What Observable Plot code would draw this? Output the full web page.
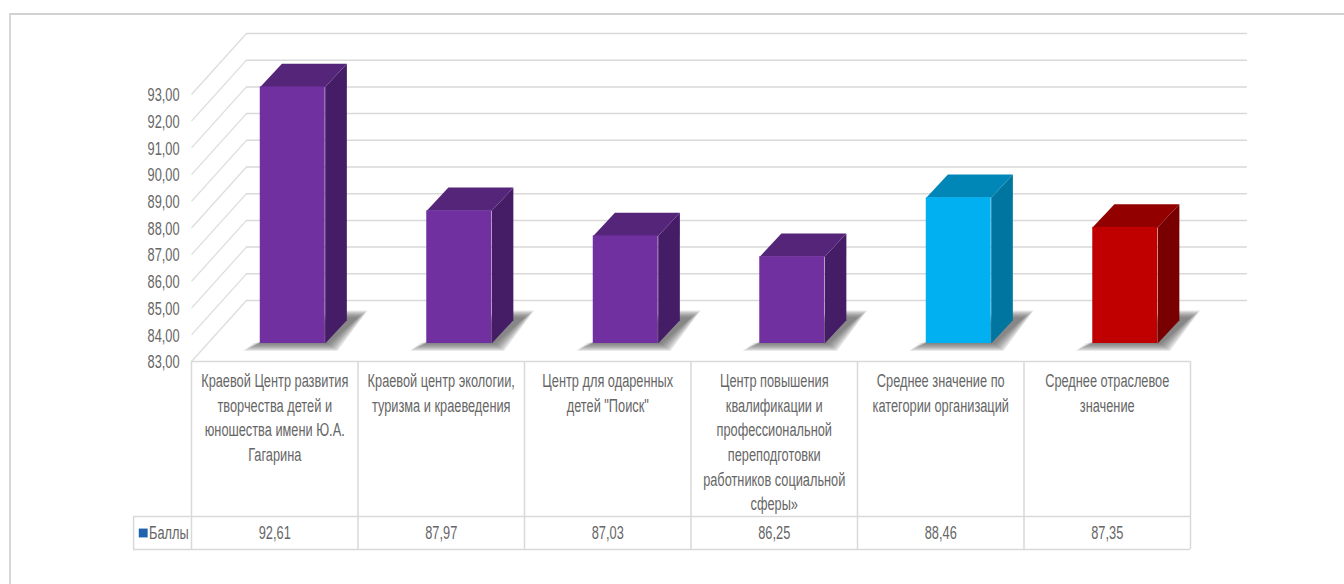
<!DOCTYPE html>
<html lang="ru">
<head>
<meta charset="utf-8">
<script src="https://cdn.jsdelivr.net/npm/d3@7"></script>
<script src="https://cdn.jsdelivr.net/npm/@observablehq/plot@0.6"></script>
<style>
html,body{margin:0;padding:0;background:#fff;overflow:hidden}
#frame{position:absolute;left:9px;top:13px;right:-4px;bottom:-4px;border-left:2px solid #d6d6d6;border-top:2px solid #d2d2d2;pointer-events:none}
#chart{position:absolute;left:0;top:0}
</style>
</head>
<body>
<div id="chart"></div>
<div id="frame"></div>
<script>
const categories = [
  "Краевой Центр развития\nтворчества детей и\nюношества имени Ю.А.\nГагарина",
  "Краевой центр экологии,\nтуризма и краеведения",
  "Центр для одаренных\nдетей \"Поиск\"",
  "Центр повышения\nквалификации и\nпрофессиональной\nпереподготовки\nработников социальной\nсферы»",
  "Среднее значение по\nкатегории организаций",
  "Среднее отраслевое\nзначение"
];
const values = [92.61, 87.97, 87.03, 86.25, 88.46, 87.35];
const frontColors = ["#7030A0", "#7030A0", "#7030A0", "#7030A0", "#00B0F0", "#C00000"];
const sideColors = ["#451C66", "#451C66", "#451C66", "#451C66", "#00759F", "#780000"];
const topColors = ["#55257A", "#55257A", "#55257A", "#55257A", "#0087B8", "#930000"];
const yTicks = d3.range(83, 94);
const columnEdges = d3.range(0, 7);
const seriesName = "Баллы";

// depth of the 3D box, in scale units (one x unit is one table column)
const wallX = 0.33, wallY = 2.285, wallEnd = 6.342;
const barDX = 0.13, barDY = 0.87, barLift = 0.674, barShift = 0.108, barW = 0.39;
const tableRow = 83 - 155 / 26.7, tableEnd = 83 - 188 / 26.7, tableLeft = -0.348;
const textSqueeze = 0.71;
const shadowLayers = [0, 1, 2, 3, 4, 5, 6];

const left = i => i + 0.5 + barShift - barW / 2;
const right = i => left(i) + barW;
const base = barLift + 83;
const faces = values.flatMap((v, i) => {
  const t = v + barLift;
  return [
    {id: "side" + i, fill: sideColors[i], pts: [[right(i), base], [right(i) + barDX, base + barDY], [right(i) + barDX, t + barDY], [right(i), t]]},
    {id: "top" + i, fill: topColors[i], pts: [[left(i), t], [right(i), t], [right(i) + barDX, t + barDY], [left(i) + barDX, t + barDY]]}
  ];
}).flatMap(f => f.pts.map(([x, y]) => ({id: f.id, fill: f.fill, x, y})));
// a soft shadow on the floor: stacked translucent layers, each a little larger
const shadows = values.flatMap((v, i) => shadowLayers.flatMap(k => {
  const gx = k * 0.009, gy = k * 0.042;
  return [
    [left(i) - 0.05 - gx, base - 0.02 - gy], [right(i) + 0.02 + gx, base - 0.02 - gy],
    [right(i) + 0.2 + gx, base + 0.98 + gy], [right(i) + 0.1 - gx, base + 0.98 + gy]
  ].map(([x, y]) => ({id: `shadow${i}-${k}`, x, y}));
}));

const plot = Plot.plot({
  width: 1344,
  height: 584,
  marginLeft: 191,
  style: {fontFamily: "'Liberation Sans',sans-serif", fontSize: "18px", background: "transparent"},
  x: {type: "linear", domain: [0, 6], range: [191, 1190], axis: null},
  y: {domain: [83, 93], range: [361, 94]},
  color: {type: "identity"},
  marks: [
    Plot.ruleY(yTicks, {y: d => d + wallY, x1: () => wallX, x2: () => wallEnd, stroke: "#d9d9d9", strokeWidth: 1.5}),
    Plot.link(yTicks, {x1: () => 0, y1: d => d, x2: () => wallX, y2: d => d + wallY, stroke: "#dcdcdc", strokeWidth: 1.2}),
    Plot.axisY({ticks: yTicks, tickSize: 0, tickPadding: 12, label: null, color: "#666666", dy: 1,
      tickFormat: d => d.toFixed(2).replace(".", ",")}),
    Plot.line(shadows, {x: "x", y: "y", z: "id", fill: "#555555", fillOpacity: 0.16, stroke: null}),
    Plot.line(faces, {x: "x", y: "y", z: "id", fill: "fill", stroke: null}),
    Plot.rect(values, {x1: (d, i) => left(i), x2: (d, i) => right(i), y1: () => base, y2: d => d + barLift, fill: (d, i) => frontColors[i]}),
    Plot.ruleX(columnEdges, {x: d => d, y1: () => 83, y2: () => tableEnd, stroke: "#d9d9d9", strokeWidth: 1.5}),
    Plot.ruleX([tableLeft], {x: d => d, y1: () => tableRow, y2: () => tableEnd, stroke: "#d9d9d9", strokeWidth: 1.5}),
    Plot.ruleY([83], {y: d => d, x1: () => 0, x2: () => 6, stroke: "#d9d9d9", strokeWidth: 1.5}),
    Plot.ruleY([tableRow, tableEnd], {y: d => d, x1: () => tableLeft, x2: () => 6, stroke: "#d9d9d9", strokeWidth: 1.5}),
    Plot.text(categories, {x: (d, i) => i + 0.5, y: () => 83, dy: 8, lineAnchor: "top", lineHeight: 1.37, text: d => d, fill: "#666666"}),
    Plot.text(values, {x: (d, i) => i + 0.5, y: () => (tableRow + tableEnd) / 2, text: d => d.toFixed(2).replace(".", ","), fill: "#666666"}),
    Plot.dot([seriesName], {x: () => -0.29, y: () => (tableRow + tableEnd) / 2, symbol: "square", r: 5, fill: "#1F62AE"}),
    Plot.text([seriesName], {x: () => -0.255, y: () => (tableRow + tableEnd) / 2, text: d => d, textAnchor: "start", fill: "#666666"})
  ]
});
document.getElementById("chart").append(plot);
plot.querySelectorAll("text").forEach(t => {
  const parts = t.querySelectorAll("tspan");
  (parts.length ? [...parts] : [t]).forEach(el => {
    el.setAttribute("textLength", el.getComputedTextLength() * textSqueeze);
    el.setAttribute("lengthAdjust", "spacingAndGlyphs");
  });
});
</script>
</body>
</html>
